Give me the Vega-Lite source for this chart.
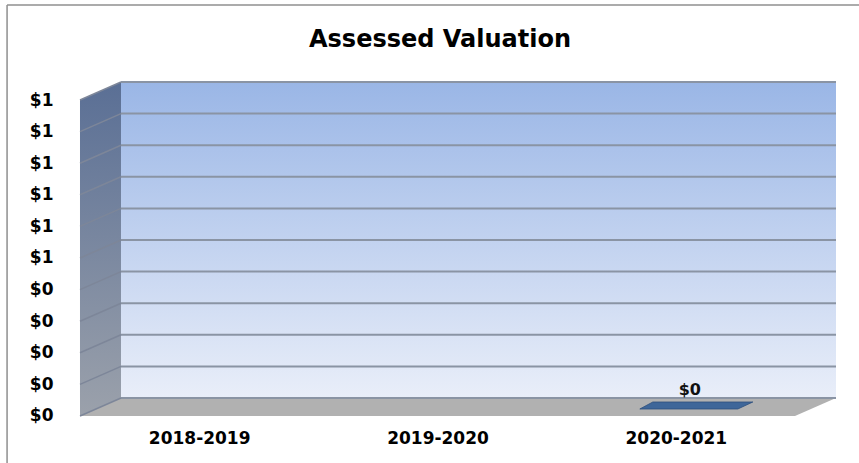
{
  "$schema": "https://vega.github.io/schema/vega-lite/v6.json",
  "width": 756,
  "height": 334,
  "autosize": {"type": "none"},
  "padding": {"left": 80, "top": 82, "right": 23, "bottom": 47},
  "background": "white",
  "config": {"view": {"stroke": null}, "font": "DejaVu Sans"},
  "title": {
    "text": "Assessed Valuation",
    "font": "DejaVu Sans",
    "fontSize": 24,
    "fontWeight": "bold",
    "color": "#000000",
    "anchor": "middle",
    "dx": -18,
    "baseline": "alphabetic",
    "offset": -67
  },
  "datasets": {
    "valuation": [
      {"year": "2018-2019", "value": null},
      {"year": "2019-2020", "value": null},
      {"year": "2020-2021", "value": 0}
    ],
    "grid": [
      {"v": 0}, {"v": 0.1}, {"v": 0.2}, {"v": 0.3}, {"v": 0.4}, {"v": 0.5},
      {"v": 0.6}, {"v": 0.7}, {"v": 0.8}, {"v": 0.9}, {"v": 1}
    ]
  },
  "layer": [
    {
      "layer": [
        {
          "data": {"values": [{}]},
          "mark": {
            "type": "rect",
            "fill": {
              "gradient": "linear", "x1": 0, "y1": 0, "x2": 0, "y2": 1,
              "stops": [
                {"offset": 0, "color": "#9ab6e6"},
                {"offset": 1, "color": "#e9eef9"}
              ]
            }
          },
          "encoding": {
            "x": {"datum": 0.172, "type": "quantitative", "scale": {"domain": [0, 3.172], "nice": false, "zero": false}, "axis": null},
            "x2": {"datum": 3.172},
            "y": {
              "datum": 0, "type": "quantitative",
              "scale": {"domain": [-0.057, 1], "nice": false, "zero": false},
              "axis": {
                "values": [0, 0.1, 0.2, 0.3, 0.4, 0.5, 0.6, 0.7, 0.8, 0.9, 1],
                "tickCount": 11,
                "format": "$.0f",
                "title": null,
                "domain": false,
                "ticks": false,
                "grid": false,
                "labelFont": "DejaVu Sans",
                "labelFontWeight": "bold",
                "labelFontSize": 17,
                "labelColor": "#000000",
                "labelPadding": 27,
                "labelOffset": 18,
                "labelOverlap": false,
                "labelFlush": false,
                "labelBound": false
              }
            },
            "y2": {"datum": 1}
          }
        },
        {
          "data": {"values": [{}]},
          "mark": {
            "type": "point",
            "filled": true,
            "opacity": 1,
            "strokeWidth": 0,
            "size": 40000,
            "shape": "M0,0 L0,-3.16 L-0.41,-2.98 L-0.41,0.18 Z",
            "fill": {
              "gradient": "linear", "x1": 0, "y1": 0, "x2": 0, "y2": 1,
              "stops": [
                {"offset": 0, "color": "#5a6f95"},
                {"offset": 1, "color": "#9ba1ab"}
              ]
            }
          },
          "encoding": {
            "x": {"datum": 0.172, "type": "quantitative"},
            "y": {"datum": 0, "type": "quantitative"}
          }
        },
        {
          "data": {"values": [{}]},
          "mark": {
            "type": "point",
            "filled": true,
            "opacity": 1,
            "strokeWidth": 0,
            "size": 40000,
            "shape": "M0,0 L7.15,0 L6.74,0.18 L-0.41,0.18 Z",
            "fill": "#b1b1b1"
          },
          "encoding": {
            "x": {"datum": 0.172, "type": "quantitative"},
            "y": {"datum": 0, "type": "quantitative"}
          }
        },
        {
          "data": {"name": "grid"},
          "mark": {"type": "rule", "color": "#8a94a4", "strokeWidth": 2},
          "encoding": {
            "x": {"datum": 0.172, "type": "quantitative"},
            "x2": {"datum": 3.172},
            "y": {"field": "v", "type": "quantitative"}
          }
        },
        {
          "data": {"name": "grid"},
          "mark": {"type": "rule", "color": "#7d8699", "strokeWidth": 1.5, "yOffset": 18},
          "encoding": {
            "x": {"datum": 0, "type": "quantitative"},
            "x2": {"datum": 0.172},
            "y": {"field": "v", "type": "quantitative"},
            "y2": {"field": "v"}
          }
        },
        {
          "data": {"values": [{}]},
          "mark": {"type": "rule", "color": "#8f8f8f", "strokeWidth": 1.5},
          "encoding": {
            "x": {"datum": -0.306, "type": "quantitative"},
            "y": {"datum": -0.21, "type": "quantitative"},
            "y2": {"datum": 1.244}
          }
        },
        {
          "data": {"values": [{}]},
          "mark": {"type": "rule", "color": "#8f8f8f", "strokeWidth": 1.5},
          "encoding": {
            "x": {"datum": -0.306, "type": "quantitative"},
            "x2": {"datum": 3.27},
            "y": {"datum": 1.244, "type": "quantitative"}
          }
        }
      ]
    },
    {
      "data": {"name": "valuation"},
      "layer": [
        {
          "transform": [{"filter": "isValid(datum.value)"}],
          "mark": {
            "type": "point",
            "filled": true,
            "opacity": 1,
            "size": 40000,
            "shape": "M-0.23,0.04 L0.77,0.04 L0.62,0.11 L-0.36,0.11 Z",
            "fill": "#3e6699",
            "stroke": "#2d4f7c",
            "strokeWidth": 0.8
          },
          "encoding": {
            "x": {
              "field": "year", "type": "nominal", "sort": null,
              "scale": {"domain": ["2018-2019", "2019-2020", "2020-2021"], "range": [0, 715], "paddingInner": 0, "paddingOuter": 0},
              "axis": {
                "orient": "bottom",
                "title": null,
                "domain": false,
                "ticks": false,
                "labelAngle": 0,
                "labelFont": "DejaVu Sans",
                "labelFontWeight": "bold",
                "labelFontSize": 17,
                "labelColor": "#000000",
                "labelPadding": 14
              }
            },
            "y": {
              "field": "value", "type": "quantitative",
              "scale": {"domain": [-0.057, 1], "nice": false, "zero": false}
            }
          }
        },
        {
          "transform": [{"filter": "isValid(datum.value)"}],
          "mark": {
            "type": "text",
            "font": "DejaVu Sans",
            "fontWeight": "bold",
            "fontSize": 16,
            "color": "#111111",
            "dx": 14,
            "dy": -8,
            "baseline": "middle",
            "align": "center"
          },
          "encoding": {
            "x": {"field": "year", "type": "nominal", "sort": null},
            "y": {"field": "value", "type": "quantitative"},
            "text": {"field": "value", "type": "quantitative", "format": "$.0f"}
          }
        }
      ]
    }
  ],
  "resolve": {"scale": {"x": "independent"}, "axis": {"x": "independent"}}
}
